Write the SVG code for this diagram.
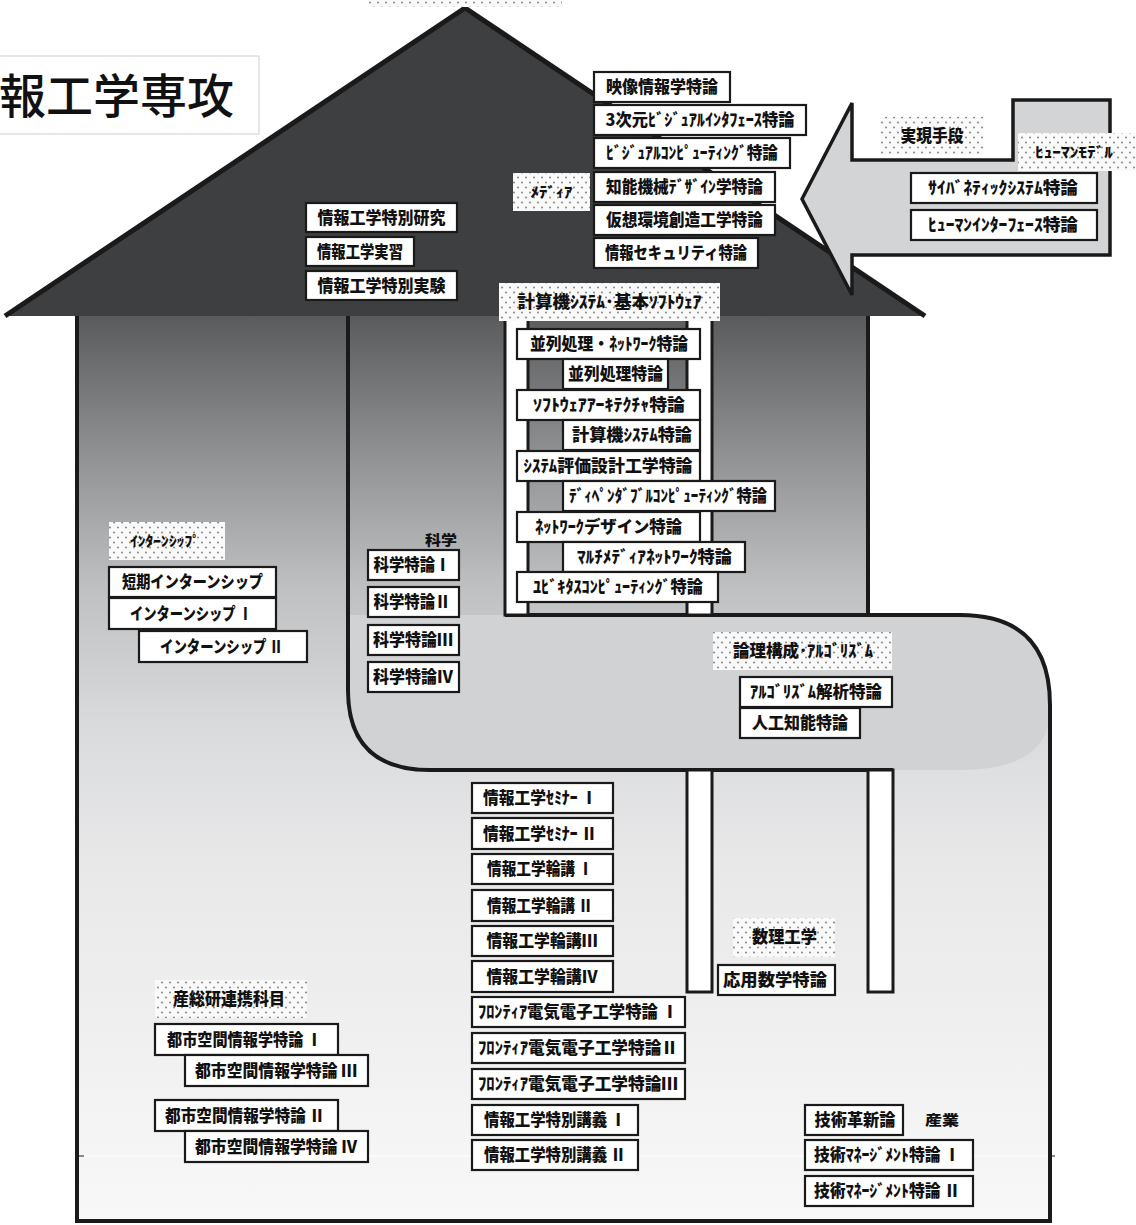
<svg xmlns="http://www.w3.org/2000/svg" width="1136" height="1225" viewBox="0 0 1136 1225">
<defs>
<style>
.box{fill:#fff;stroke:#1a1a1a;stroke-width:2.2}
.lbl{fill:url(#dots)}
.t{font-family:"Noto Sans CJK JP","Noto Sans CJK SC",sans-serif;font-weight:900;font-size:16.5px;text-anchor:middle;fill:#111}
.s{font-size:14px}
.ln{fill:none;stroke:#1a1a1a;stroke-width:4}
.rail{fill:#fff;stroke:#1a1a1a;stroke-width:3}
</style>
<pattern id="dots" width="8" height="10" patternUnits="userSpaceOnUse">
<rect width="8" height="10" fill="#fafafa"/>
<circle cx="2" cy="2.5" r="1" fill="#858585"/>
<circle cx="6" cy="7.5" r="1" fill="#858585"/>
</pattern>
<linearGradient id="bodyg" gradientUnits="userSpaceOnUse" x1="0" y1="316" x2="0" y2="1220">
<stop offset="0" stop-color="#5a5b5d"/>
<stop offset="0.15" stop-color="#8f9092"/>
<stop offset="0.3" stop-color="#bfc0c2"/>
<stop offset="0.45" stop-color="#d9dadc"/>
<stop offset="0.6" stop-color="#e8e8e9"/>
<stop offset="1" stop-color="#f8f8f8"/>
</linearGradient>
</defs>
<rect width="1136" height="1225" fill="#fff"/>

<g id="house">
<path d="M77,316 L868,316 L868,615 L960,615 Q1050,615 1050,705 L1050,1221 L77,1221 Z" fill="url(#bodyg)"/>
<path d="M348,615 L960,615 Q1050,615 1050,705 L1050,715 Q1045,770 960,770 L430,770 Q348,770 348,690 Z" fill="#d1d2d4"/>
<line x1="80" y1="1156" x2="1048" y2="1156" stroke="#ffffff" stroke-width="1"/>
<line x1="79" y1="1156" x2="84" y2="1156" stroke="#1a1a1a" stroke-width="1"/>
<line x1="1050" y1="1156" x2="1055" y2="1156" stroke="#1a1a1a" stroke-width="1"/>
<path class="ln" d="M77,316 L77,1221 L1050,1221 L1050,705 Q1050,615 960,615 L505,615"/>
<path class="ln" d="M868,316 L868,615"/>
<path class="ln" d="M348,316 L348,690 Q348,770 430,770 L893,770"/>
<rect class="rail" x="505" y="318" width="23" height="297"/>
<rect class="rail" x="687" y="318" width="25" height="297"/>
<rect class="rail" x="687" y="770" width="25" height="222"/>
<rect class="rail" x="868" y="770" width="25" height="222"/>
<polygon points="5,316 465,8 925,316" fill="#3e3f41"/>
<polyline points="5,316 465,8 925,316" fill="none" stroke="#1a1a1a" stroke-width="5" stroke-linejoin="miter"/>
<rect class="lbl" x="368" y="-10" width="194" height="17"/>
<polygon points="802,199 852,103 852,160 1013,160 1013,100 1110,100 1110,255 852,255 852,295" fill="#d3d4d6" stroke="#1a1a1a" stroke-width="3.5" stroke-linejoin="miter"/>
</g>

<g id="title">
<rect x="-2" y="56" width="261" height="78" fill="#fff" stroke="#cfcfcf" stroke-width="1"/>
<text x="-1" y="113" font-family="Noto Sans CJK JP, Noto Sans CJK SC, sans-serif" font-size="47" font-weight="500" fill="#111">報工学専攻</text>
</g>

<g id="n-kenkyu"><rect class="box" x="306" y="203" width="151" height="29"/><text class="t" x="381.5" y="223.5" textLength="128" lengthAdjust="spacingAndGlyphs">情報工学特別研究</text></g>
<g id="n-jisshu"><rect class="box" x="306" y="237" width="108" height="29"/><text class="t" x="360" y="257.5" textLength="86" lengthAdjust="spacingAndGlyphs">情報工学実習</text></g>
<g id="n-jikken"><rect class="box" x="306" y="271" width="151" height="29"/><text class="t" x="381.5" y="291.5" textLength="128" lengthAdjust="spacingAndGlyphs">情報工学特別実験</text></g>

<g id="n-eizo"><rect class="box" x="594" y="72" width="136" height="30"/><text class="t" x="662" y="93" textLength="112" lengthAdjust="spacingAndGlyphs">映像情報学特論</text></g>
<g id="n-3d"><rect class="box" x="594" y="105" width="212" height="30"/><text class="t" x="700" y="126" textLength="189" lengthAdjust="spacingAndGlyphs">3次元ﾋﾞｼﾞｭｱﾙｲﾝﾀﾌｪｰｽ特論</text></g>
<g id="n-visual"><rect class="box" x="594" y="138" width="196" height="30"/><text class="t" x="692" y="159" textLength="172" lengthAdjust="spacingAndGlyphs">ﾋﾞｼﾞｭｱﾙｺﾝﾋﾟｭｰﾃｨﾝｸﾞ特論</text></g>
<g id="n-chino"><rect class="box" x="594" y="172" width="181" height="30"/><text class="t" x="684.5" y="193" textLength="157" lengthAdjust="spacingAndGlyphs">知能機械ﾃﾞｻﾞｲﾝ学特論</text></g>
<g id="n-kaso"><rect class="box" x="594" y="205" width="181" height="30"/><text class="t" x="684.5" y="226" textLength="157" lengthAdjust="spacingAndGlyphs">仮想環境創造工学特論</text></g>
<g id="n-security"><rect class="box" x="594" y="238" width="164" height="30"/><text class="t" x="676" y="259" textLength="142" lengthAdjust="spacingAndGlyphs">情報セキュリティ特論</text></g>
<g id="l-media"><rect class="lbl" x="513" y="173" width="77" height="38"/><text class="t s" x="551.5" y="197" textLength="42" lengthAdjust="spacingAndGlyphs">ﾒﾃﾞｨｱ</text></g>

<g id="l-jitsugen"><rect class="lbl" x="880" y="117" width="104" height="38"/><text class="t" x="932" y="142" textLength="63" lengthAdjust="spacingAndGlyphs">実現手段</text></g>
<g id="l-human"><rect class="lbl" x="1018" y="133" width="118" height="38"/><text class="t s" x="1074" y="157" textLength="78" lengthAdjust="spacingAndGlyphs">ﾋｭｰﾏﾝﾓﾃﾞﾙ</text></g>
<g id="n-cyber"><rect class="box" x="911" y="173" width="186" height="30"/><text class="t" x="1003" y="194" textLength="150" lengthAdjust="spacingAndGlyphs">ｻｲﾊﾞﾈﾃｨｯｸｼｽﾃﾑ特論</text></g>
<g id="n-hif"><rect class="box" x="911" y="210" width="186" height="30"/><text class="t" x="1003" y="231" textLength="150" lengthAdjust="spacingAndGlyphs">ﾋｭｰﾏﾝｲﾝﾀｰﾌｪｰｽ特論</text></g>

<g id="l-computer"><rect class="lbl" x="499" y="283" width="221" height="38"/><text class="t" x="609.5" y="308" textLength="184" lengthAdjust="spacingAndGlyphs">計算機ｼｽﾃﾑ･基本ｿﾌﾄｳｪｱ</text></g>
<g id="n-para-net"><rect class="box" x="517" y="329" width="183" height="30"/><text class="t" x="609" y="350" textLength="158" lengthAdjust="spacingAndGlyphs">並列処理・ﾈｯﾄﾜｰｸ特論</text></g>
<g id="n-para"><rect class="box" x="563" y="359" width="105" height="30"/><text class="t" x="615.5" y="380" textLength="95" lengthAdjust="spacingAndGlyphs">並列処理特論</text></g>
<g id="n-soft"><rect class="box" x="517" y="390" width="183" height="30"/><text class="t" x="609" y="411" textLength="152" lengthAdjust="spacingAndGlyphs">ｿﾌﾄｳｪｱｱｰｷﾃｸﾁｬ特論</text></g>
<g id="n-keisanki"><rect class="box" x="563" y="420" width="137" height="30"/><text class="t" x="632" y="441" textLength="120" lengthAdjust="spacingAndGlyphs">計算機ｼｽﾃﾑ特論</text></g>
<g id="n-hyoka"><rect class="box" x="517" y="451" width="183" height="30"/><text class="t" x="608" y="472" textLength="169" lengthAdjust="spacingAndGlyphs">ｼｽﾃﾑ評価設計工学特論</text></g>
<g id="n-depend"><rect class="box" x="563" y="481" width="212" height="30"/><text class="t" x="668" y="502" textLength="198" lengthAdjust="spacingAndGlyphs">ﾃﾞｨﾍﾟﾝﾀﾞﾌﾞﾙｺﾝﾋﾟｭｰﾃｨﾝｸﾞ特論</text></g>
<g id="n-netdesign"><rect class="box" x="517" y="512" width="183" height="30"/><text class="t" x="608.5" y="533" textLength="147" lengthAdjust="spacingAndGlyphs">ﾈｯﾄﾜｰｸデザイン特論</text></g>
<g id="n-multi"><rect class="box" x="563" y="542" width="182" height="30"/><text class="t" x="654.5" y="563" textLength="155" lengthAdjust="spacingAndGlyphs">ﾏﾙﾁﾒﾃﾞｨｱﾈｯﾄﾜｰｸ特論</text></g>
<g id="n-ubi"><rect class="box" x="517" y="572" width="201" height="30"/><text class="t" x="618" y="593" textLength="170" lengthAdjust="spacingAndGlyphs">ﾕﾋﾞｷﾀｽｺﾝﾋﾟｭｰﾃｨﾝｸﾞ特論</text></g>

<g id="l-intern"><rect class="lbl" x="109" y="522" width="116" height="38"/><text class="t s" x="165" y="546" textLength="70" lengthAdjust="spacingAndGlyphs">ｲﾝﾀｰﾝｼｯﾌﾟ</text></g>
<g id="n-tanki"><rect class="box" x="109" y="567" width="167" height="30"/><text class="t" x="192.5" y="588" textLength="141" lengthAdjust="spacingAndGlyphs">短期インターンシップ</text></g>
<g id="n-intern1"><rect class="box" x="109" y="598" width="167" height="31"/><text class="t" x="191" y="619.5" textLength="122" lengthAdjust="spacingAndGlyphs">インターンシップ Ⅰ</text></g>
<g id="n-intern2"><rect class="box" x="139" y="631" width="168" height="31"/><text class="t" x="221.5" y="652.5" textLength="123" lengthAdjust="spacingAndGlyphs">インターンシップ Ⅱ</text></g>

<g id="l-kagaku"><text class="t s" x="457" y="545" style="text-anchor:end" textLength="32" lengthAdjust="spacingAndGlyphs">科学</text></g>
<g id="n-kagaku1"><rect class="box" x="368" y="550" width="91" height="30"/><text class="t" x="412" y="571" textLength="77" lengthAdjust="spacingAndGlyphs">科学特論Ⅰ</text></g>
<g id="n-kagaku2"><rect class="box" x="368" y="587" width="91" height="30"/><text class="t" x="412" y="608" textLength="77" lengthAdjust="spacingAndGlyphs">科学特論Ⅱ</text></g>
<g id="n-kagaku3"><rect class="box" x="368" y="625" width="91" height="30"/><text class="t" x="413" y="646" textLength="80" lengthAdjust="spacingAndGlyphs">科学特論Ⅲ</text></g>
<g id="n-kagaku4"><rect class="box" x="368" y="662" width="91" height="30"/><text class="t" x="413" y="683" textLength="80" lengthAdjust="spacingAndGlyphs">科学特論Ⅳ</text></g>

<g id="l-ronri"><rect class="lbl" x="713" y="632" width="179" height="38"/><text class="t" x="803" y="657" textLength="140" lengthAdjust="spacingAndGlyphs">論理構成･ｱﾙｺﾞﾘｽﾞﾑ</text></g>
<g id="n-algo"><rect class="box" x="740" y="677" width="152" height="30"/><text class="t" x="816" y="698" textLength="132" lengthAdjust="spacingAndGlyphs">ｱﾙｺﾞﾘｽﾞﾑ解析特論</text></g>
<g id="n-ai"><rect class="box" x="740" y="708" width="120" height="30"/><text class="t" x="800" y="729" textLength="96" lengthAdjust="spacingAndGlyphs">人工知能特論</text></g>

<g id="n-sem1"><rect class="box" x="472" y="783" width="141" height="30"/><text class="t" x="540" y="804" textLength="114" lengthAdjust="spacingAndGlyphs">情報工学ｾﾐﾅｰ Ⅰ</text></g>
<g id="n-sem2"><rect class="box" x="472" y="818" width="141" height="31"/><text class="t" x="540" y="839.5" textLength="114" lengthAdjust="spacingAndGlyphs">情報工学ｾﾐﾅｰ Ⅱ</text></g>
<g id="n-rin1"><rect class="box" x="472" y="854" width="141" height="30"/><text class="t" x="540" y="875" textLength="106" lengthAdjust="spacingAndGlyphs">情報工学輪講 Ⅰ</text></g>
<g id="n-rin2"><rect class="box" x="472" y="890" width="141" height="31"/><text class="t" x="540" y="911.5" textLength="106" lengthAdjust="spacingAndGlyphs">情報工学輪講 Ⅱ</text></g>
<g id="n-rin3"><rect class="box" x="472" y="926" width="141" height="30"/><text class="t" x="542" y="947" textLength="111" lengthAdjust="spacingAndGlyphs">情報工学輪講Ⅲ</text></g>
<g id="n-rin4"><rect class="box" x="472" y="961" width="141" height="31"/><text class="t" x="542" y="982.5" textLength="111" lengthAdjust="spacingAndGlyphs">情報工学輪講Ⅳ</text></g>
<g id="n-front1"><rect class="box" x="472" y="997" width="213" height="30"/><text class="t" x="578" y="1018" textLength="200" lengthAdjust="spacingAndGlyphs">ﾌﾛﾝﾃｨｱ電気電子工学特論 Ⅰ</text></g>
<g id="n-front2"><rect class="box" x="472" y="1033" width="213" height="30"/><text class="t" x="578" y="1054" textLength="200" lengthAdjust="spacingAndGlyphs">ﾌﾛﾝﾃｨｱ電気電子工学特論Ⅱ</text></g>
<g id="n-front3"><rect class="box" x="472" y="1069" width="213" height="30"/><text class="t" x="578" y="1090" textLength="200" lengthAdjust="spacingAndGlyphs">ﾌﾛﾝﾃｨｱ電気電子工学特論Ⅲ</text></g>
<g id="n-kogi1"><rect class="box" x="472" y="1105" width="166" height="30"/><text class="t" x="555" y="1126" textLength="142" lengthAdjust="spacingAndGlyphs">情報工学特別講義 Ⅰ</text></g>
<g id="n-kogi2"><rect class="box" x="472" y="1140" width="166" height="30"/><text class="t" x="555" y="1161" textLength="142" lengthAdjust="spacingAndGlyphs">情報工学特別講義 Ⅱ</text></g>

<g id="l-suri"><rect class="lbl" x="733" y="918" width="102" height="39"/><text class="t" x="784.5" y="943" textLength="65" lengthAdjust="spacingAndGlyphs">数理工学</text></g>
<g id="n-oyo"><rect class="box" x="718" y="965" width="117" height="30"/><text class="t" x="775" y="986" textLength="104" lengthAdjust="spacingAndGlyphs">応用数学特論</text></g>

<g id="l-aist"><rect class="lbl" x="155" y="980" width="152" height="38"/><text class="t" x="229" y="1005" textLength="112" lengthAdjust="spacingAndGlyphs">産総研連携科目</text></g>
<g id="n-toshi1"><rect class="box" x="155" y="1024" width="183" height="31"/><text class="t" x="244.5" y="1045.5" textLength="155" lengthAdjust="spacingAndGlyphs">都市空間情報学特論 Ⅰ</text></g>
<g id="n-toshi3"><rect class="box" x="185" y="1055" width="183" height="31"/><text class="t" x="276" y="1076.5" textLength="162" lengthAdjust="spacingAndGlyphs">都市空間情報学特論 Ⅲ</text></g>
<g id="n-toshi2"><rect class="box" x="155" y="1100" width="183" height="31"/><text class="t" x="245" y="1121.5" textLength="160" lengthAdjust="spacingAndGlyphs">都市空間情報学特論 Ⅱ</text></g>
<g id="n-toshi4"><rect class="box" x="185" y="1131" width="183" height="31"/><text class="t" x="276" y="1152.5" textLength="162" lengthAdjust="spacingAndGlyphs">都市空間情報学特論 Ⅳ</text></g>

<g id="n-kakushin"><rect class="box" x="805" y="1105" width="98" height="30"/><text class="t" x="855" y="1126" textLength="81" lengthAdjust="spacingAndGlyphs">技術革新論</text></g>
<g id="l-sangyo"><text class="t s" x="942" y="1125" textLength="34" lengthAdjust="spacingAndGlyphs">産業</text></g>
<g id="n-mot1"><rect class="box" x="805" y="1140" width="168" height="30"/><text class="t" x="887" y="1161" textLength="146" lengthAdjust="spacingAndGlyphs">技術ﾏﾈｰｼﾞﾒﾝﾄ特論 Ⅰ</text></g>
<g id="n-mot2"><rect class="box" x="805" y="1176" width="168" height="30"/><text class="t" x="887" y="1197" textLength="146" lengthAdjust="spacingAndGlyphs">技術ﾏﾈｰｼﾞﾒﾝﾄ特論 Ⅱ</text></g>
</svg>
